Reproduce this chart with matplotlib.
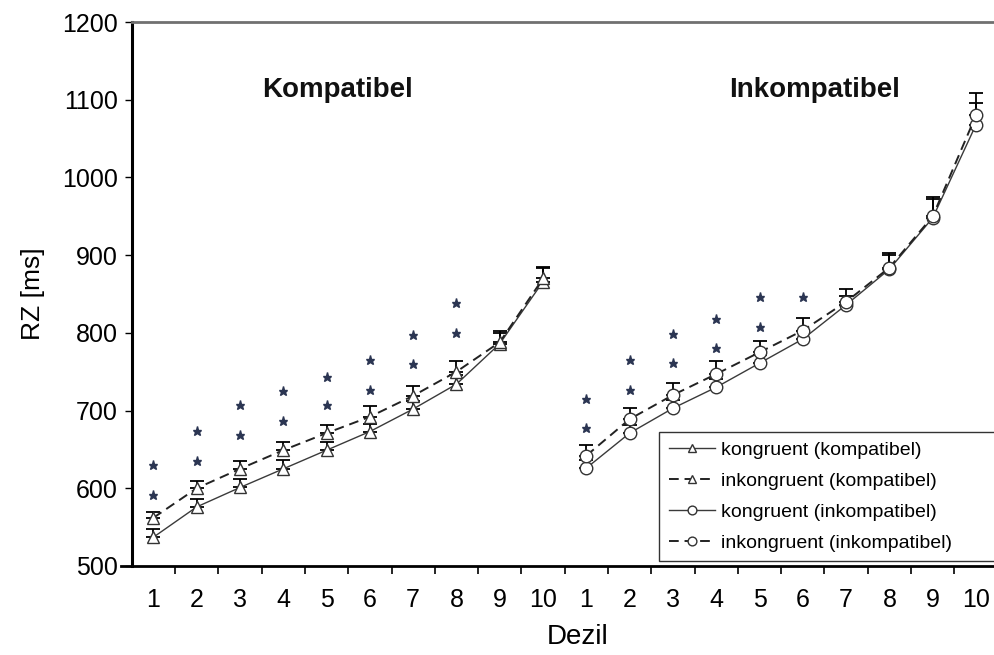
import matplotlib
matplotlib.use("Agg")
import matplotlib.pyplot as plt
from matplotlib.lines import Line2D
import numpy as np

plt.rcParams['font.family'] = ['Liberation Sans', 'DejaVu Sans']

# ---------------- data ----------------
deciles = list(range(1, 11))
tick_labels = [str(d) for d in deciles] + [str(d) for d in deciles]

# Kompatibel
komp_kong = [537, 576, 601, 625, 649, 673, 702, 734, 786, 866]
komp_kong_err = [10, 10, 11, 12, 11, 10, 10, 12, 14, 17]
komp_inkong = [562, 600, 625, 649, 671, 692, 719, 750, 788, 870]
komp_inkong_err = [7, 9, 10, 10, 11, 14, 12, 14, 14, 15]

# Inkompatibel
inkomp_kong = [626, 671, 703, 730, 761, 792, 836, 882, 948, 1068]
inkomp_kong_err = [10, 10, 10, 10, 10, 10, 12, 18, 24, 28]
inkomp_inkong = [642, 689, 720, 747, 775, 803, 840, 884, 950, 1080]
inkomp_inkong_err = [14, 14, 16, 17, 15, 16, 17, 19, 25, 29]

# significance stars (values at each decile; NaN = none)
komp_star_low = [591, 635, 669, 686, 707, 727, 760, 800]
komp_star_high = [630, 674, 707, 725, 743, 765, 797, 838]
inkomp_star_low = [677, 727, 761, 780, 808, 846]
inkomp_star_high = [715, 765, 799, 818, 846, np.nan]

series_labels = ["kongruent (kompatibel)", "inkongruent (kompatibel)",
                 "kongruent (inkompatibel)", "inkongruent (inkompatibel)"]
panel_titles = ["Kompatibel", "Inkompatibel"]
y_ticks = [500, 600, 700, 800, 900, 1000, 1100, 1200]

# ---------------- figure ----------------
fig = plt.figure(figsize=(9.95, 6.55), dpi=100)
ax = fig.add_axes([0.1324, 0.1359, 0.8703, 0.8305])

x_komp = np.array(deciles, dtype=float)
x_inkomp = np.array(deciles, dtype=float) + 10

line_col = '#3a3a3a'
solid_kw = dict(color=line_col, lw=1.0, ls='-')
dash_kw = dict(color='#222222', lw=1.4, ls=(0, (5, 3)))

# error bars (one-sided upward)
def ebar(x, y, e):
    ax.errorbar(x, y, yerr=[np.zeros(len(e)), e], fmt='none', ecolor='black',
                elinewidth=1.3, capsize=5, capthick=1.3, zorder=3)

ebar(x_komp, komp_kong, komp_kong_err)
ebar(x_komp, komp_inkong, komp_inkong_err)
ebar(x_inkomp, inkomp_kong, inkomp_kong_err)
ebar(x_inkomp, inkomp_inkong, inkomp_inkong_err)

tri = dict(marker='^', ms=8, mfc='white', mec='#333333', mew=1.0)
circ = dict(marker='o', ms=9, mfc='white', mec='#333333', mew=1.0)

l1, = ax.plot(x_komp, komp_kong, **solid_kw, **tri, zorder=4)
l2, = ax.plot(x_komp, komp_inkong, **dash_kw, **tri, zorder=4)
l3, = ax.plot(x_inkomp, inkomp_kong, **solid_kw, **circ, zorder=4)
l4, = ax.plot(x_inkomp, inkomp_inkong, **dash_kw, **circ, zorder=4)

star_kw = dict(ls='none', marker='*', ms=6.5, color='#2b3552', zorder=5)
ax.plot(x_komp[:len(komp_star_low)], komp_star_low, **star_kw)
ax.plot(x_komp[:len(komp_star_high)], komp_star_high, **star_kw)
ax.plot(x_inkomp[:len(inkomp_star_low)], inkomp_star_low, **star_kw)
ax.plot(x_inkomp[:len(inkomp_star_high)], inkomp_star_high, **star_kw)

# panel titles
ax.text(5.26, 1112, panel_titles[0], ha='center', va='center',
        fontsize=20, fontweight='bold', color='#111111')
ax.text(16.28, 1112, panel_titles[1], ha='center', va='center',
        fontsize=20, fontweight='bold', color='#111111')

# axes styling
ax.set_xlim(0.5, 20.5)
ax.set_ylim(500, 1200)
ax.set_yticks(y_ticks)
ax.set_yticklabels([str(v) for v in y_ticks])
ax.set_xticks(np.arange(1, 21))
ax.set_xticklabels(tick_labels)
ax.set_xticks(np.arange(1.5, 20.5, 1.0), minor=True)
ax.tick_params(axis='x', which='major', length=0, pad=16, labelsize=18)
ax.tick_params(axis='x', which='minor', length=6, width=1.2, direction='out')
ax.tick_params(axis='y', which='major', length=5, width=1.0, pad=5, labelsize=18)

ax.spines['right'].set_visible(False)
ax.spines['bottom'].set_visible(False)
ax.spines['left'].set_linewidth(2.2)
ax.spines['top'].set_color('#707070')
ax.spines['top'].set_linewidth(2.0)
ax.add_line(Line2D([-0.012, 1.01], [0, 0], transform=ax.transAxes,
                   color='black', lw=2.0, clip_on=False))

fig.text(33 / 995, 1 - 294 / 655, "RZ [ms]", rotation=90, ha='center',
         va='center', fontsize=19)
fig.text(578 / 995, 1 - 637 / 655, "Dezil", ha='center', va='center',
         fontsize=20)

# legend
h1 = Line2D([], [], **solid_kw, **tri)
h2 = Line2D([], [], **dash_kw, **tri)
h3 = Line2D([], [], **solid_kw, **circ)
h4 = Line2D([], [], **dash_kw, **circ)
leg_top = 1 - 431.7 / 655
leg = ax.legend([h1, h2, h3, h4], series_labels, loc='upper left',
                bbox_to_anchor=(659 / 995, leg_top - 0.1, 400 / 995, 0.1),
                bbox_transform=fig.transFigure, mode='expand', borderaxespad=0,
                fontsize=14, handlelength=2.4, handletextpad=0.3,
                labelspacing=0.68, frameon=True, fancybox=False,
                edgecolor='#333333', framealpha=1, borderpad=0.5,
                markerscale=0.7)
leg.get_frame().set_linewidth(1.0)
leg.set_zorder(10)

fig.savefig("out.png", dpi=100)
